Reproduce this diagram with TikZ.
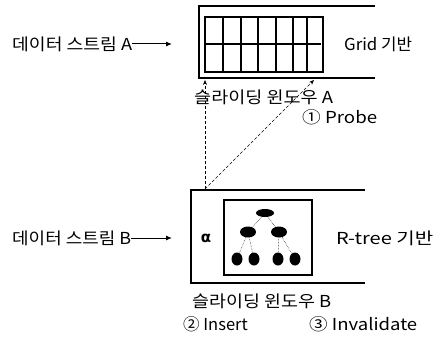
\documentclass[tikz,border=0pt]{standalone}
\usepackage{fontspec}
\usepackage{graphicx}
\setmainfont{Noto Sans CJK KR}
\newfontfamily\dvfont{DejaVu Sans}
\usetikzlibrary{arrows.meta,shapes.geometric}
\newcommand\fitw[2]{\resizebox{#1}{\height}{#2}}
\begin{document}
\begin{tikzpicture}[x=1pt,y=-1pt,
  lbl/.style={inner sep=0pt,anchor=west,font=\fontsize{16.5}{18}\selectfont},
  win/.style={line width=1.6pt},
  inbox/.style={line width=1.6pt},
  feed/.style={line width=1pt,-{Latex[length=6pt,width=5pt]}},
  probe/.style={densely dashed,line width=0.6pt,-{Stealth[length=5pt,width=4pt]}},
  tn/.style={ellipse,fill=black,inner sep=0pt},
  te/.style={densely dotted,line width=0.5pt}]
\useasboundingbox (0,0) rectangle (437,345);
% window A
\draw[win] (375,6) -- (199,6) -- (199,78) -- (375,78);
\node[draw,inbox,minimum width=118pt,minimum height=55pt,inner sep=0pt,anchor=north west] (grid) at (204,16) {};
\draw[line width=1.2pt] (204,44) -- (321,44);
\foreach \x in {223,241,258,276,293,307} \draw[line width=1.2pt] (\x,16) -- (\x,71);
\coordinate (wa1) at (205,80);
\coordinate (wa2) at (314,80);
\node[lbl] (sa) at (12,44) {\fitw{120pt}{데이터 스트림 A}};
\coordinate (sae) at (172,44);
\draw[feed] (sa.east) -- (sae);
\node[lbl] (ga) at (344,44) {\fitw{68pt}{Grid 기반}};
\node[lbl] (swa) at (194,97) {\fitw{139pt}{슬라이딩 윈도우 A}};
\node[lbl] (pr) at (302,117) {\fitw{75pt}{① Probe}};
% window B
\draw[win] (365,190) -- (191,190) -- (191,283) -- (365,283);
\coordinate (wb) at (205,189);
\node[draw,inbox,minimum width=88pt,minimum height=75pt,inner sep=0pt,anchor=north west] (tbox) at (223,199) {};
\node[inner sep=0pt,font=\dvfont\bfseries\fontsize{15}{16}\selectfont] (al) at (206,238) {α};
\node[tn,minimum width=18pt,minimum height=8pt] (r) at (265,213) {};
\node[tn,minimum width=16pt,minimum height=11pt] (m1) at (248,232) {};
\node[tn,minimum width=16pt,minimum height=11pt] (m2) at (279,232) {};
\node[tn,minimum width=11pt,minimum height=13pt] (l1) at (237,259) {};
\node[tn,minimum width=11pt,minimum height=13pt] (l2) at (254,259) {};
\node[tn,minimum width=11pt,minimum height=13pt] (l3) at (278,259) {};
\node[tn,minimum width=11pt,minimum height=13pt] (l4) at (295,259) {};
\draw[te] (r) -- (m1); \draw[te] (r) -- (m2);
\draw[te] (m1) -- (l1); \draw[te] (m1) -- (l2);
\draw[te] (m2) -- (l3); \draw[te] (m2) -- (l4);
\node[lbl] (sb) at (12,238) {\fitw{119pt}{데이터 스트림 B}};
\coordinate (sbe) at (172,238);
\draw[feed] (sb.east) -- (sbe);
\node[lbl] (rb) at (336,238) {\fitw{97pt}{R-tree 기반}};
\node[lbl] (swb) at (192,301) {\fitw{139pt}{슬라이딩 윈도우 B}};
\node[lbl] (ins) at (183,324) {② Insert};
\node[lbl] (inv) at (309,324) {\fitw{108pt}{③ Invalidate}};
% probe lines
\draw[probe] (wb) -- (wa1);
\draw[probe] (wb) -- (wa2);
\end{tikzpicture}
\end{document}
